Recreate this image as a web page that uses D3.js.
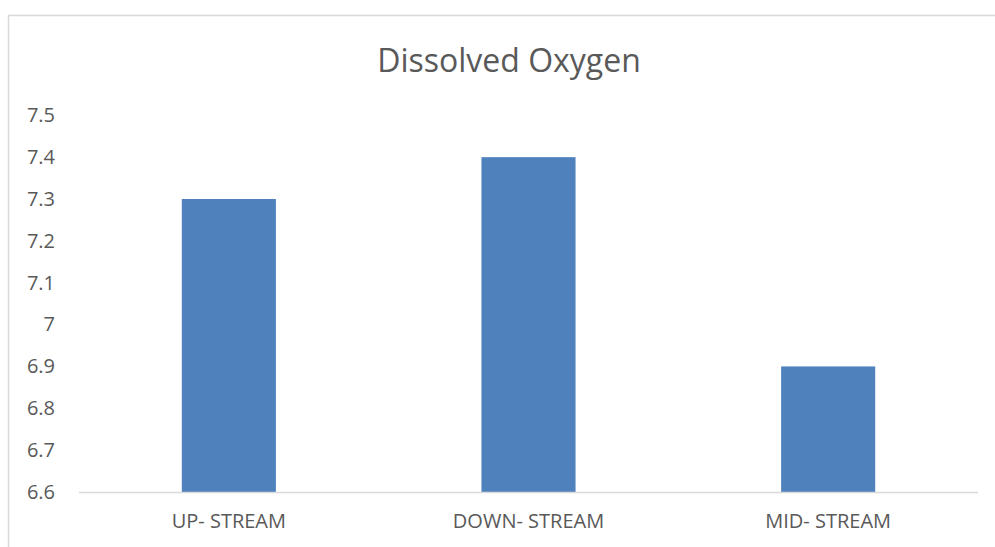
<!DOCTYPE html>
<html>
<head>
<meta charset="utf-8">
<script src="https://cdn.jsdelivr.net/npm/d3@7"></script>
<style>
	body { margin: 0; background: #fff; }
	text { font-family: 'Open Sans', sans-serif; fill: #595959; }
</style>
</head>
<body>
<div id="chart"></div>
<script>
const categories = ['UP- STREAM', 'DOWN- STREAM', 'MID- STREAM'];
const oxygenValues = [7.3, 7.4, 6.9];
const yTicks = [6.6, 6.7, 6.8, 6.9, 7.0, 7.1, 7.2, 7.3, 7.4, 7.5];
const chartTitle = 'Dissolved Oxygen';

const width = 995, height = 547;
const plot = {left: 79, right: 978, top: 115.3, bottom: 492};

const svg = d3.select('#chart')
	.append('svg')
	.attr('width', width)
	.attr('height', height);

// chart area frame (right/bottom edges fall outside the view)
svg.append('rect')
	.attr('x', 8.5)
	.attr('y', 15.5)
	.attr('width', 1000)
	.attr('height', 600)
	.attr('fill', '#fff')
	.attr('stroke', '#d9d9d9')
	.attr('stroke-width', 1.5);

svg.append('text')
	.attr('x', 509)
	.attr('y', 72)
	.attr('text-anchor', 'middle')
	.style('font-size', '32px')
	.text(chartTitle);

const xScale = d3.scaleBand()
	.domain(categories)
	.range([plot.left, plot.right])
	.paddingInner(0.686)
	.paddingOuter(0.343);

const yScale = d3.scaleLinear()
	.domain([6.6, 7.5])
	.range([plot.bottom, plot.top]);

svg.selectAll('.bar')
	.data(categories)
	.enter()
	.append('rect')
	.attr('class', 'bar')
	.attr('x', d => xScale(d))
	.attr('width', xScale.bandwidth())
	.attr('y', (d, i) => yScale(oxygenValues[i]))
	.attr('height', (d, i) => yScale(6.6) - yScale(oxygenValues[i]))
	.attr('fill', '#4f81bd');

// y axis: labels only
const yAxis = svg.append('g')
	.attr('transform', `translate(${plot.left - 24}, 0)`)
	.call(d3.axisLeft(yScale)
		.tickValues(yTicks)
		.tickSize(0)
		.tickPadding(0)
		.tickFormat(d => String(+d.toFixed(1))));
yAxis.select('.domain').remove();
yAxis.selectAll('text')
	.style('font-size', '20px')
	.attr('fill', null);

// x axis: light baseline + category labels
const xAxis = svg.append('g')
	.attr('transform', `translate(0, ${plot.bottom})`)
	.call(d3.axisBottom(xScale).tickSize(0).tickPadding(22));
xAxis.select('.domain')
	.attr('stroke', '#d9d9d9')
	.attr('stroke-width', 1.5)
	.attr('d', `M${plot.left},0.5H${plot.right}`);
xAxis.selectAll('text')
	.style('font-size', '20px')
	.attr('fill', null);
</script>
</body>
</html>
